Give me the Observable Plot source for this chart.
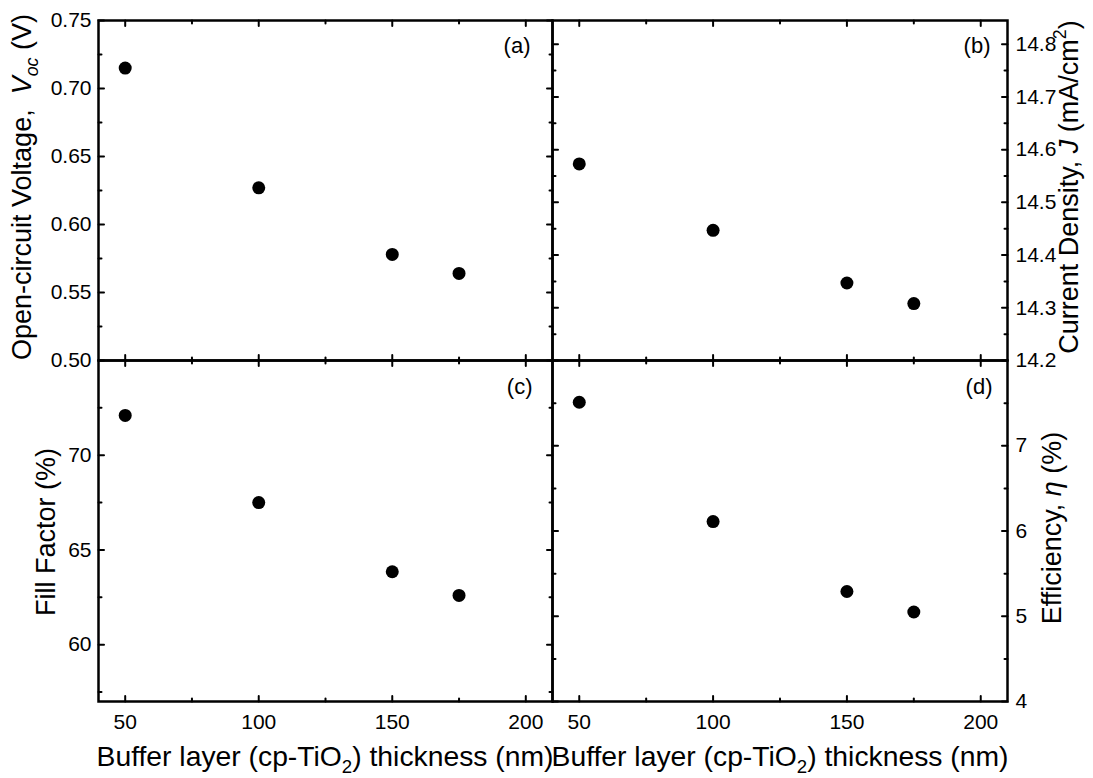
<!DOCTYPE html>
<html><head><meta charset="utf-8">
<script src="https://cdn.jsdelivr.net/npm/d3@7"></script>
<script src="https://cdn.jsdelivr.net/npm/@observablehq/plot@0.6"></script>
<style>
body{margin:0;background:#fff;}
#chart{position:relative;width:1093px;height:778px;font-family:"Liberation Sans",Arial,sans-serif;color:#000;}
#chart svg{position:absolute;overflow:visible;}
</style></head><body><div id="chart"></div>
<script>
// ---- data ----
const thickness = [50, 100, 150, 175];
const vocValues = [0.715, 0.627, 0.578, 0.564];
const jValues = [14.573, 14.447, 14.347, 14.308];
const ffValues = [72.1, 67.5, 63.85, 62.6];
const effValues = [7.51, 6.11, 5.29, 5.05];

const xMajorTicks = [50, 100, 150, 200];
const xMinorTicks = [75, 125, 175];
const vocMajorTicks = [0.50, 0.55, 0.60, 0.65, 0.70, 0.75];
const vocMinorTicks = [0.525, 0.575, 0.625, 0.675, 0.725];
const jMajorTicks = [14.2, 14.3, 14.4, 14.5, 14.6, 14.7, 14.8];
const jMinorTicks = [14.25, 14.35, 14.45, 14.55, 14.65, 14.75];
const ffMajorTicks = [60, 65, 70];
const ffMinorTicks = [57.5, 62.5, 67.5, 72.5];
const effMajorTicks = [4, 5, 6, 7];
const effMinorTicks = [4.5, 5.5, 6.5, 7.5];

const panelTags = ["(a)", "(b)", "(c)", "(d)"];
const xTitleParts = [{text: "Buffer layer (cp-TiO"}, {text: "2", sub: true}, {text: ") thickness (nm)", reset: true}];
const vocTitleParts = [{text: "Open-circuit Voltage,  "}, {text: "V", italic: true}, {text: "oc", italic: true, sub: true}, {text: " (V)", reset: true}];
const ffTitleParts = [{text: "Fill Factor (%)"}];
const jTitleParts = [{text: "Current Density, "}, {text: "J", italic: true}, {text: " (mA/cm"}, {text: "2", sup: true}, {text: ")", resetSup: true}];
const effTitleParts = [{text: "Efficiency, "}, {text: "η", italic: true}, {text: " (%)"}];

const FONT = "'Liberation Sans', Arial, sans-serif";
const chart = document.getElementById("chart");

const tickShape = {draw(ctx, l) { ctx.moveTo(0, 0); ctx.lineTo(0, -l); }};
function yTicks(vals, anchor, len) {
  return Plot.vector(vals, {y: d => d, frameAnchor: anchor, length: len, rotate: anchor === "left" ? 90 : -90,
    anchor: "start", shape: tickShape, stroke: "black", strokeWidth: 2});
}
function xTicks(vals, anchor, len) {
  return Plot.vector(vals, {x: d => d, frameAnchor: anchor, length: len, rotate: anchor === "top" ? 180 : 0,
    anchor: "start", shape: tickShape, stroke: "black", strokeWidth: 2});
}

function panel({values, yDomain, yMajor, yMinor, yFormat, side, tag, showX, box, pos, tagDx, tagDy}) {
  const data = thickness.map((t, i) => ({t, v: values[i]}));
  const marks = [
    yTicks(yMajor, "left", 5.5), yTicks(yMinor, "left", 3),
    yTicks(yMajor, "right", 5.5), yTicks(yMinor, "right", 3),
    xTicks(xMajorTicks, "top", 5.5), xTicks(xMinorTicks, "top", 3),
    xTicks(xMajorTicks, "bottom", 5.5), xTicks(xMinorTicks, "bottom", 3),
    Plot.frame({stroke: "black", strokeWidth: 2.5}),
    Plot.axisY({anchor: side, ticks: yMajor, tickSize: 0, tickPadding: side === "left" ? 7 : 8,
      tickFormat: yFormat, fontSize: 21, label: null}),
    Plot.dot(data, {x: "t", y: "v", r: 6.5, fill: "black"}),
    Plot.text([tag], {frameAnchor: "top-right", dx: tagDx, dy: tagDy, fontSize: 22, textAnchor: "end", lineAnchor: "middle"})
  ];
  if (showX) marks.push(Plot.axisX({anchor: "bottom", ticks: xMajorTicks, tickSize: 0, tickPadding: 13, fontSize: 21, label: null}));
  const svg = Plot.plot({
    ...box,
    style: {overflow: "visible", fontFamily: FONT, background: "transparent", color: "black"},
    x: showX ? {domain: [40, 210]} : {domain: [40, 210], axis: null},
    y: {domain: yDomain},
    marks
  });
  svg.style.left = pos[0] + "px";
  svg.style.top = pos[1] + "px";
  svg.style.maxWidth = "none";
  chart.appendChild(svg);
}

panel({values: vocValues, yDomain: [0.5, 0.75], yMajor: vocMajorTicks, yMinor: vocMinorTicks, yFormat: d3.format(".2f"),
  side: "left", tag: panelTags[0], showX: false, pos: [0, 0], tagDx: -22, tagDy: 25,
  box: {width: 552, height: 360, marginLeft: 98, marginRight: 0, marginTop: 20, marginBottom: 0}});
panel({values: jValues, yDomain: [14.2, 14.845], yMajor: jMajorTicks, yMinor: jMinorTicks, yFormat: d3.format(".1f"),
  side: "right", tag: panelTags[1], showX: false, pos: [552, 0], tagDx: -17, tagDy: 25,
  box: {width: 541, height: 360, marginLeft: 0, marginRight: 86, marginTop: 20, marginBottom: 0}});
panel({values: ffValues, yDomain: [57, 75], yMajor: ffMajorTicks, yMinor: ffMinorTicks, yFormat: d3.format("d"),
  side: "left", tag: panelTags[2], showX: true, pos: [0, 360], tagDx: -20, tagDy: 26,
  box: {width: 552, height: 418, marginLeft: 98, marginRight: 0, marginTop: 0, marginBottom: 77}});
panel({values: effValues, yDomain: [4, 8], yMajor: effMajorTicks, yMinor: effMinorTicks, yFormat: d3.format("d"),
  side: "right", tag: panelTags[3], showX: true, pos: [552, 360], tagDx: -15, tagDy: 26,
  box: {width: 541, height: 418, marginLeft: 0, marginRight: 86, marginTop: 0, marginBottom: 77}});

// ---- titles ----
const overlay = d3.select(chart).append("svg")
  .attr("width", 1093).attr("height", 778)
  .style("left", "0px").style("top", "0px").style("pointer-events", "none")
  .attr("font-family", FONT);

function addTitle(parts, x, y, rot, size) {
  const t = overlay.append("text")
    .attr("transform", `translate(${x},${y}) rotate(${rot})`)
    .attr("text-anchor", "middle").attr("font-size", size).attr("fill", "black")
    .style("white-space", "pre");
  const small = size * 0.66;
  parts.forEach(p => {
    const s = t.append("tspan").text(p.text);
    if (p.italic) s.attr("font-style", "italic");
    if (p.sub) s.attr("font-size", small).attr("dy", 7);
    if (p.sup) s.attr("font-size", small).attr("dy", -12);
    if (p.reset) s.attr("dy", -7);
    if (p.resetSup) s.attr("dy", 12);
  });
}
addTitle(xTitleParts, 325, 766, 0, 28.3);
addTitle(xTitleParts, 780, 766, 0, 28.3);
addTitle(vocTitleParts, 31, 187, -90, 27);
addTitle(ffTitleParts, 55, 532, -90, 27);
addTitle(jTitleParts, 1078, 187, -90, 27);
addTitle(effTitleParts, 1061, 528, -90, 27);
</script></body></html>
